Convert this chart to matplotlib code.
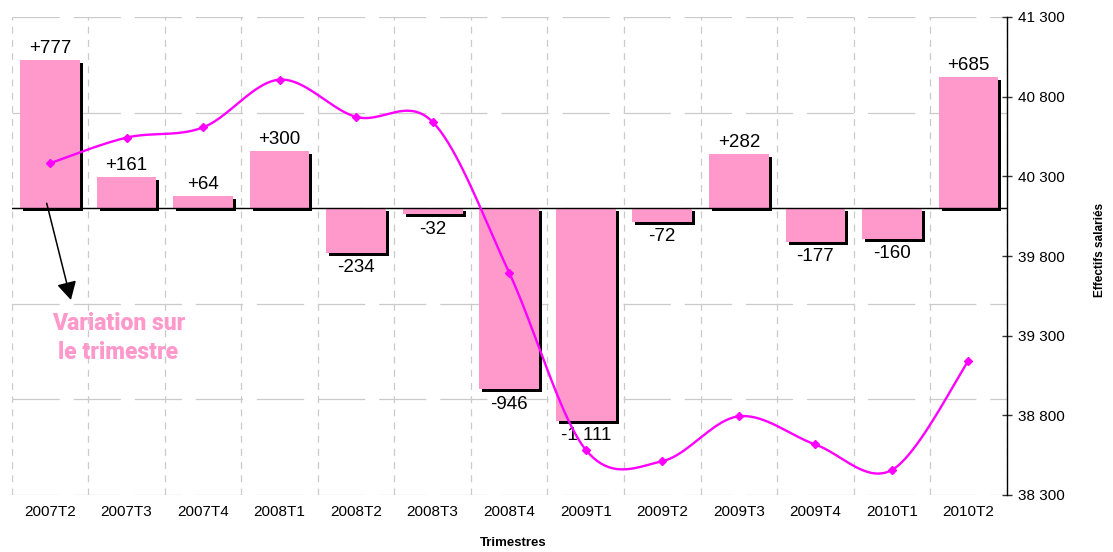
import numpy as np
import matplotlib
matplotlib.use('Agg')
import matplotlib.pyplot as plt
import matplotlib.patheffects as pe
from matplotlib import font_manager

# ---------------- data ----------------
quarters = ['2007T2', '2007T3', '2007T4', '2008T1', '2008T2', '2008T3', '2008T4',
            '2009T1', '2009T2', '2009T3', '2009T4', '2010T1', '2010T2']
variations = [777, 161, 64, 300, -234, -32, -946, -1111, -72, 282, -177, -160, 685]
effectifs = [40382, 40543, 40607, 40907, 40673, 40641, 39695, 38584, 38512,
             38794, 38617, 38457, 39142]
right_ticks = [38300, 38800, 39300, 39800, 40300, 40800, 41300]
left_grid = [-1500, -1000, -500, 0, 500, 1000]

# ---------------- style ----------------
plt.rcParams['lines.scale_dashes'] = False
avail = {f.name for f in font_manager.fontManager.ttflist}
main_font = 'Liberation Sans' if 'Liberation Sans' in avail else 'DejaVu Sans'
narrow_font = 'Liberation Sans Narrow' if 'Liberation Sans Narrow' in avail else main_font
annot_font = 'Roboto' if 'Roboto' in avail else 'DejaVu Sans'
plt.rcParams['font.family'] = [main_font, 'DejaVu Sans']

BAR_COLOR = '#FF99CC'
LINE_COLOR = '#FF00FF'
GRID_COLOR = '#CACACA'


def fmt_space(v):
    return f"{abs(int(v)):,}".replace(',', ' ')


def signed(v):
    return ('+' if v > 0 else '-') + fmt_space(v)


def smooth(xs, ys, n=40):
    P = np.column_stack([xs, ys]).astype(float)
    P = np.vstack([P[0], P, P[-1]])
    out = []
    for i in range(1, len(P) - 2):
        p0, p1, p2, p3 = P[i - 1], P[i], P[i + 1], P[i + 2]
        t = np.linspace(0, 1, n, endpoint=False)[:, None]
        c1 = p1 + (p2 - p0) / 6.0
        c2 = p2 - (p3 - p1) / 6.0
        seg = (1 - t) ** 3 * p1 + 3 * (1 - t) ** 2 * t * c1 + 3 * (1 - t) * t ** 2 * c2 + t ** 3 * p2
        out.append(seg)
    out.append(P[-2][None, :])
    return np.vstack(out)


W, H = 1113, 552
fig = plt.figure(figsize=(W / 100, H / 100), dpi=100)
L, R, T, B = 11.7, 1006.7, 17, 495
ax = fig.add_axes([L / W, 1 - B / H, (R - L) / W, (B - T) / H])

x = np.arange(len(quarters))
ax.set_xlim(-0.5, len(quarters) - 0.5)
ax.set_ylim(-1500, 1000)

# grids
ax.set_yticks(left_grid)
ax.yaxis.grid(True, color=GRID_COLOR, lw=0.9, linestyle=(0, (34, 10)))
ax.set_xticks(x)
ax.set_xticklabels(quarters, fontsize=11)
ax.set_xticks(np.arange(-0.5, len(quarters)), minor=True)
ax.xaxis.grid(True, which='minor', color=GRID_COLOR, lw=0.9, linestyle=(0, (5, 4.5)))
ax.xaxis.grid(False, which='major')
ax.set_axisbelow(True)
ax.yaxis.set_tick_params(which='both', left=False, right=False, labelleft=False, length=0)
ax.tick_params(axis='x', which='both', length=0, pad=7)
for s in ax.spines.values():
    s.set_visible(False)

# bars with shadow
ax.bar(x, variations, width=0.78, color=BAR_COLOR, zorder=3,
       path_effects=[pe.SimplePatchShadow(offset=(2.2, -2.2), shadow_rgbFace='black', alpha=1.0),
                     pe.Normal()])
ax.axhline(0, color='black', lw=1.0, zorder=4)

for xi, v in zip(x, variations):
    ax.annotate(signed(v), (xi, v), xytext=(0, 5.0 if v > 0 else -14),
                textcoords='offset points', ha='center', va='baseline', fontsize=13.5, zorder=6)

# arrow + annotation
ax.annotate('', xy=(0.274, -480), xytext=(-0.043, 26),
            arrowprops=dict(arrowstyle='-|>,head_length=0.55,head_width=0.3', color='black',
                            lw=1.1, mutation_scale=20, shrinkA=0, shrinkB=0), zorder=7)
fig.text(118.3 / W, 1 - 338 / H, 'Variation sur\nle trimestre', color=BAR_COLOR, fontsize=16.5,
         fontweight='black', family=[annot_font, 'DejaVu Sans'], ha='center', va='center',
         linespacing=1.3)

# right axis line
ax2 = ax.twinx()
ax2.set_ylim(right_ticks[0], right_ticks[-1])
ax2.set_yticks(right_ticks)
ax2.set_yticklabels([fmt_space(v) for v in right_ticks], fontsize=11)
for k, s in ax2.spines.items():
    s.set_visible(k == 'right')
ax2.spines['right'].set_linewidth(1.0)
ax2.tick_params(axis='y', direction='inout', length=6.5, width=1.0, pad=5,
                color='#333333', labelcolor='black')

curve = smooth(x, effectifs)
ax2.plot(curve[:, 0], curve[:, 1], color=LINE_COLOR, lw=1.7, zorder=5)
ax2.plot(x, effectifs, linestyle='none', marker='D', color=LINE_COLOR, ms=4.5, zorder=6)

fig.text(513 / W, 1 - 543 / H, 'Trimestres', fontweight='bold', fontsize=9.5,
         ha='center', va='center')
fig.text(1100 / W, 1 - 250 / H, 'Effectifs salariés', rotation=90, fontweight='bold',
         fontsize=8.5, family=[narrow_font, 'DejaVu Sans'], ha='center', va='center')

fig.savefig('out.png', dpi=100)
